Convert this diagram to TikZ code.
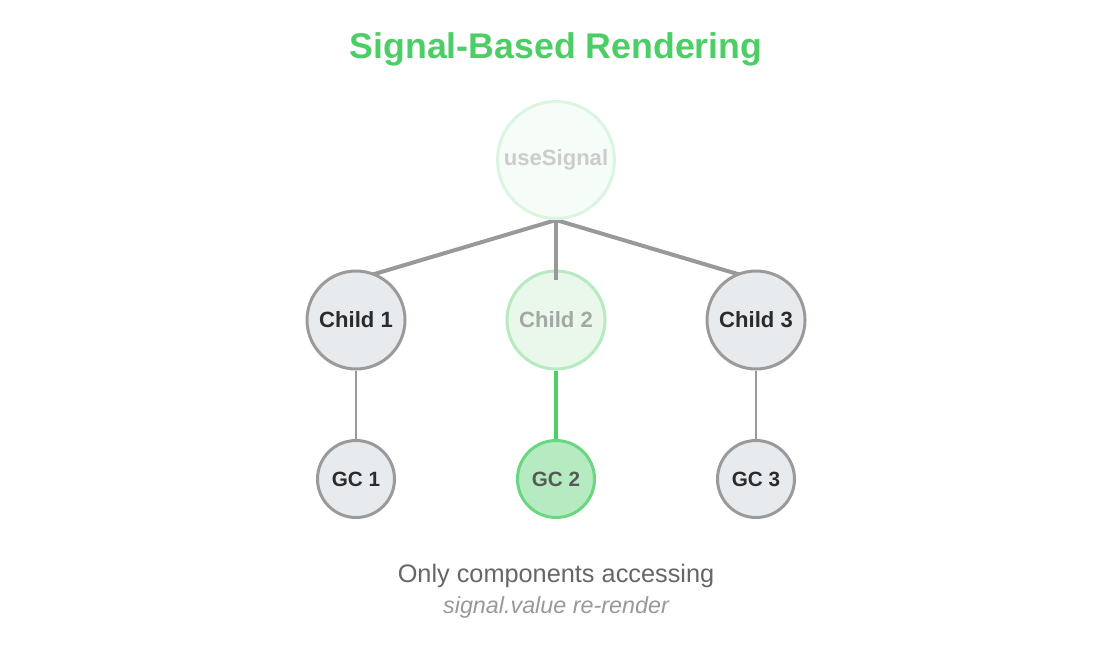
\documentclass[tikz,border=0pt]{standalone}
\usepackage{fontspec}
\setmainfont{Liberation Sans}
\usetikzlibrary{backgrounds}
\definecolor{titelgruen}{HTML}{4CCD66}
\definecolor{ink}{HTML}{2B2B2B}
\definecolor{knotenfill}{HTML}{E8EBEE}
\definecolor{knotenrand}{HTML}{9A9A9A}
\definecolor{kantengrau}{HTML}{999999}
\definecolor{blassfill}{HTML}{F6FCF7}
\definecolor{blassrand}{HTML}{DBF5E0}
\definecolor{blasstext}{HTML}{CCCCCC}
\definecolor{halbfill}{HTML}{EAF8EC}
\definecolor{halbrand}{HTML}{B6EAC1}
\definecolor{halbtext}{HTML}{A3A8A4}
\definecolor{aktivfill}{HTML}{B6EBC1}
\definecolor{aktivrand}{HTML}{68D77F}
\definecolor{aktivtext}{HTML}{555A56}
\definecolor{aktivlinie}{HTML}{4CD064}
\definecolor{muted}{HTML}{666666}
\definecolor{greya}{HTML}{999999}
\newcommand{\titel}{\fontsize{25.4}{30}\selectfont}
\newcommand{\lbl}{\fontsize{15.7}{19}\selectfont}
\newcommand{\klein}{\fontsize{14.7}{18}\selectfont}
\newcommand{\unter}{\fontsize{18}{22}\selectfont}
\newcommand{\micro}{\fontsize{16.6}{20}\selectfont}
\tikzset{kreis/.style={circle,inner sep=0,line width=0.75mm,font=\lbl\bfseries},
  kind/.style={kreis,minimum size=24.5mm,draw=knotenrand,fill=knotenfill,text=ink},
  enkel/.style={kreis,minimum size=19.25mm,font=\klein\bfseries,draw=knotenrand,fill=knotenfill,text=ink},
  kante/.style={kantengrau,line width=1mm},
  duenn/.style={kantengrau,line width=0.5mm},
  gruenlinie/.style={aktivlinie,line width=1mm}}

\begin{document}
\begin{tikzpicture}[x=0.25mm,y=-0.25mm]
\useasboundingbox (0,0) rectangle (1112,660);
\node[anchor=base,inner sep=0,text=titelgruen,font=\titel\bfseries] (titel) at (556,58.5) {Signal-Based Rendering};
\node[kreis,minimum size=29.25mm,draw=blassrand,fill=blassfill,text=blasstext] (hook) at (556,160) {useSignal};
\node[kind] (c1) at (356,320) {Child 1};
\node[kind,draw=halbrand,fill=halbfill,text=halbtext] (c2) at (556,320) {Child 2};
\node[kind] (c3) at (756,320) {Child 3};
\node[enkel] (g1) at (356,479) {GC 1};
\node[enkel,draw=aktivrand,fill=aktivfill,text=aktivtext] (g2) at (556,479) {GC 2};
\node[enkel] (g3) at (756,479) {GC 3};
\begin{scope}[on background layer]
\draw[kante] (hook.south) -- ([yshift=-2.5mm]c1.north);
\draw[kante] (hook.south) -- ([yshift=-2.5mm]c3.north);
\draw[duenn] (c1.south) -- (g1.north);
\draw[duenn] (c3.south) -- (g3.north);
\draw[gruenlinie] (c2.south) -- (g2.north);
\end{scope}
\draw[kante] (hook.south) -- ([yshift=-2.5mm]c2.north);
\node[anchor=base,inner sep=0,text=muted,font=\unter] (zeile1) at (556,582) {Only components accessing};
\node[anchor=base,inner sep=0,text=greya,font=\micro\itshape] (zeile2) at (556,613) {signal.value re-render};
\end{tikzpicture}
\end{document}
